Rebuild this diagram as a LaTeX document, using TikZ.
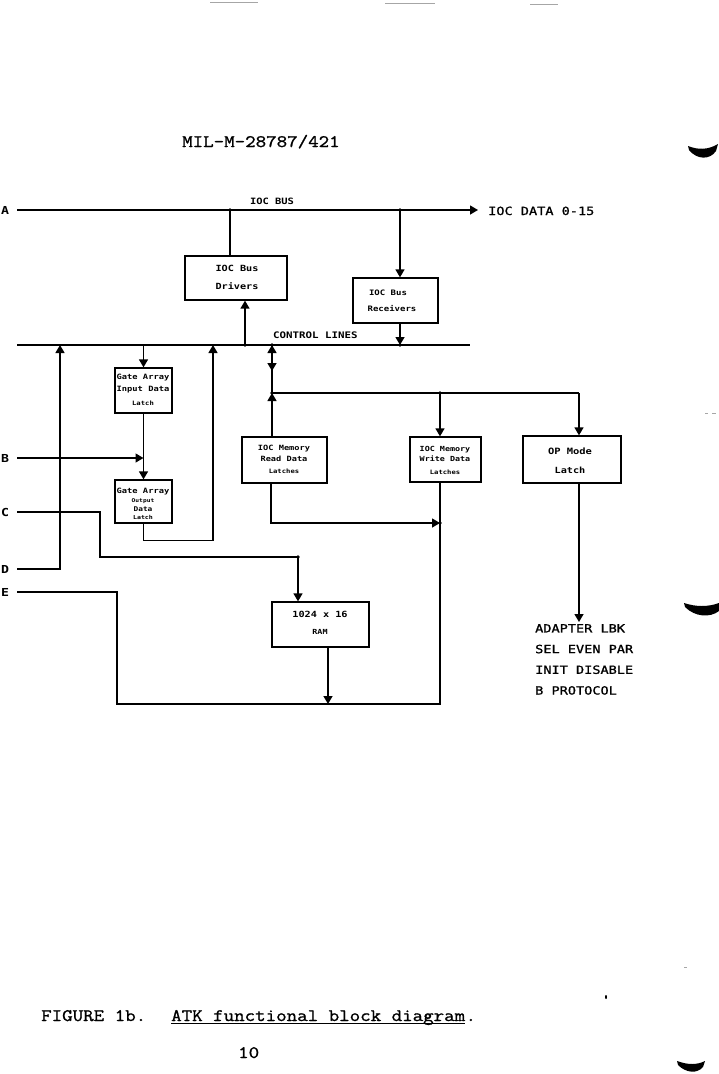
\documentclass[tikz,border=0pt]{standalone}
\usepackage{fontspec}
\usetikzlibrary{arrows.meta}
\newfontfamily\pf[FakeStretch=1.2]{DejaVu Sans Mono}
\newfontfamily\pfl[FakeStretch=1.2,FakeBold=1.2]{DejaVu Sans Mono}
\newfontfamily\tw[FakeStretch=1.165,FakeBold=1.2]{Latin Modern Mono}
\newcommand{\psz}[1]{\fontsize{#1}{#1}\selectfont}
\newcommand{\outsz}{\fontsize{11.3}{20.7}\selectfont}
\begin{document}
\begin{tikzpicture}[x=1pt,y=-1pt,
  wire/.style={line width=1.4pt},
  arr/.style={wire,-{Triangle[length=8pt,width=9pt]}},
  rarr/.style={wire,{Triangle[length=8pt,width=9pt]}-},
  blk/.style={draw,line width=1.3pt,inner sep=0pt},
  bt/.style={inner sep=0pt,anchor=base,font=\pf\bfseries},
  lab/.style={inner sep=0pt,font=\pfl\psz{11.3}},
  dot/.style={circle,fill,inner sep=0pt,minimum size=3.6pt},
  txt/.style={inner sep=0pt,anchor=base west,font=\tw\psz{17.5}},
  scan/.style={line width=1pt,gray!70}]
\useasboundingbox (0,0) rectangle (719,1074);
% scan artefacts
\draw[scan] (210,2) -- (258,2);
\draw[scan] (385,3) -- (435,3);
\draw[scan] (530,4) -- (558,4);
\fill (688,146) .. controls (698,150) and (708,150) .. (718,144) -- (716,151) .. controls (710,160) and (697,160) .. (689,150) -- cycle;
\fill (684,603) .. controls (696,607) and (708,607) .. (719,603) -- (719,611) .. controls (710,618) and (695,617) .. (685,607) -- cycle;
\fill (677,1061) .. controls (688,1065) and (697,1065) .. (705,1061) -- (703,1067) .. controls (697,1074) and (686,1073) .. (678,1065) -- cycle;
\draw[scan] (705,413) -- (708,413);
\draw[scan] (712,413) -- (716,413);
\draw[scan] (684,967) -- (687,967);
\fill (606,997) ellipse (1pt and 2pt);
% header and caption
\node[txt] (hdr) at (182,147) {MIL-M-28787/421};
\node[txt] (fig) at (41,1021) {FIGURE 1b.};
\node[txt] (cap) at (171,1021) {ATK functional block diagram};
\node[txt,anchor=base west] (per) at (cap.base east) {.};
\draw[line width=1pt] ([yshift=-2.5pt]cap.base west) -- ([yshift=-2.5pt]cap.base east);
\node[txt] (pg) at (238,1058) {10};
% blocks
\node[blk,minimum width=102pt,minimum height=44pt] (drv) at (236,278) {};
\node[blk,minimum width=85pt,minimum height=45pt] (rcv) at (395.5,300.5) {};
\node[blk,minimum width=57pt,minimum height=45pt] (gin) at (143.5,390.5) {};
\node[blk,minimum width=57pt,minimum height=43pt] (gout) at (143.5,501.5) {};
\node[blk,minimum width=85pt,minimum height=46pt] (rd) at (284.5,460) {};
\node[blk,minimum width=71pt,minimum height=45pt] (wr) at (445.5,459.5) {};
\node[blk,minimum width=98pt,minimum height=47pt] (op) at (572,459.5) {};
\node[blk,minimum width=97pt,minimum height=45pt] (ram) at (320.5,624.5) {};
% block texts
\node[bt] (drv1) at (237,271) {\psz{8.5}IOC Bus};
\node[bt] (drv2) at (237,289) {\psz{8.5}Drivers};
\node[bt] (rcv1) at (388,295) {\psz{7.5}IOC Bus};
\node[bt] (rcv2) at (392,311) {\psz{7.5}Receivers};
\node[bt] (gin1) at (143,379) {\psz{7.3}Gate Array};
\node[bt] (gin2) at (143,391) {\psz{7.3}Input Data};
\node[bt] (gin3) at (143,405) {\psz{6}Latch};
\node[bt] (gout1) at (143,493) {\psz{7.3}Gate Array};
\node[bt] (gout2) at (143,502) {\psz{5.2}Output};
\node[bt] (gout3) at (143,511.5) {\psz{6.5}Data};
\node[bt] (gout4) at (143,519) {\psz{5.5}Latch};
\node[bt] (rd1) at (284,450) {\psz{7.2}IOC Memory};
\node[bt] (rd2) at (284,461) {\psz{7.2}Read Data};
\node[bt] (rd3) at (284,473) {\psz{6}Latches};
\node[bt] (wr1) at (445,451) {\psz{7}IOC Memory};
\node[bt] (wr2) at (445,461) {\psz{7}Write Data};
\node[bt] (wr3) at (445,474) {\psz{6}Latches};
\node[bt] (op1) at (570,454) {\psz{8.7}OP Mode};
\node[bt] (op2) at (570,473) {\psz{8.5}Latch};
\node[bt] (ram1) at (320,617) {\psz{8.5}1024 x 16};
\node[bt] (ram2) at (320,634) {\psz{7}RAM};
% labels
\node[bt] (busl) at (272,204) {\psz{8.7}IOC BUS};
\node[bt,anchor=base west] (ctl) at (273,338) {\psz{9}CONTROL LINES};
\node[lab,anchor=base west] (dat) at (488,215) {IOC DATA 0-15};
\node[lab,anchor=base west,font=\pf\bfseries\psz{11}] (A) at (1,214) {A};
\node[lab,anchor=base west,font=\pf\bfseries\psz{11}] (B) at (1,462) {B};
\node[lab,anchor=base west,font=\pf\bfseries\psz{11}] (C) at (1,516) {C};
\node[lab,anchor=base west,font=\pf\bfseries\psz{11}] (D) at (1,573) {D};
\node[lab,anchor=base west,font=\pf\bfseries\psz{11}] (E) at (1,596) {E};
\node[lab,anchor=north west,align=left,font=\pfl\outsz] (out) at (535,624) {ADAPTER LBK\\SEL EVEN PAR\\INIT DISABLE\\B PROTOCOL};
% coordinates
\coordinate (busL) at (17,210); \coordinate (busR) at (478,210);
\coordinate (jd) at (230,210); \coordinate (jr) at (400,210);
\coordinate (clL) at (17,345); \coordinate (clR) at (470,345);
\coordinate (c1) at (60,345); \coordinate (c2) at (143.5,345);
\coordinate (c3) at (213,345); \coordinate (c4) at (245,345);
\coordinate (c5) at (272,345); \coordinate (c6) at (400,345);
\coordinate (Bs) at (17,458); \coordinate (Cs) at (17,512);
\coordinate (Ds) at (17,569); \coordinate (Es) at (17,592);
\coordinate (Cj) at (298,557); \coordinate (bot) at (440,704);
\coordinate (rj) at (440,523); \coordinate (hj) at (272,393);
\coordinate (hw) at (440,393); \coordinate (ho) at (579,393);
\coordinate (opt) at (579,622);
% buses
\draw[arr] (busL) -- (busR);
\draw[wire] (clL) -- (clR);
% connectors
\draw[wire] (jd) -- (jd |- drv.north);
\draw[arr] (c4) -- (c4 |- drv.south);
\draw[arr] (jr) -- (jr |- rcv.north);
\draw[arr] (jr |- rcv.south) -- (c6);
\draw[arr] (c2) -- (gin.north);
\draw[arr] (gin.south) -- (gout.north);
\draw[arr] (Bs) -- (gin.south |- Bs);
\draw[arr] (Ds) -- (c1 |- Ds) -- (c1);
\draw[arr] (gout.south) -- ++(0,17) -| (c3);
\draw[wire] (Cs) -- (100,512) -- (100,557) -- (Cj);
\draw[arr] (Cj) -- (Cj |- ram.north);
\draw[wire] (Es) -- (117,592) -- (117,704) -- (bot) -- (bot |- wr.south);
\draw[arr] ([xshift=7.5pt]ram.south) -- ([xshift=7.5pt]ram.south |- bot);
\draw[arr] ([xshift=-13.5pt]rd.south) |- (rj);
\draw[rarr] (c5) -- (hj);
\draw[arr] (c5) -- (272,371);
\draw[arr] (rd.north -| hj) -- (hj);
\draw[wire] (hj) -- (ho);
\draw[arr] (hw) -- (hw |- wr.north);
\draw[arr] (ho) -- (ho |- op.north);
\draw[arr] (ho |- op.south) -- (opt);
% junction dots
\foreach \p in {jd,jr,c4,c5,c6,hj,hw,rj,Cj} \node[dot] at (\p) {};
\end{tikzpicture}
\end{document}
